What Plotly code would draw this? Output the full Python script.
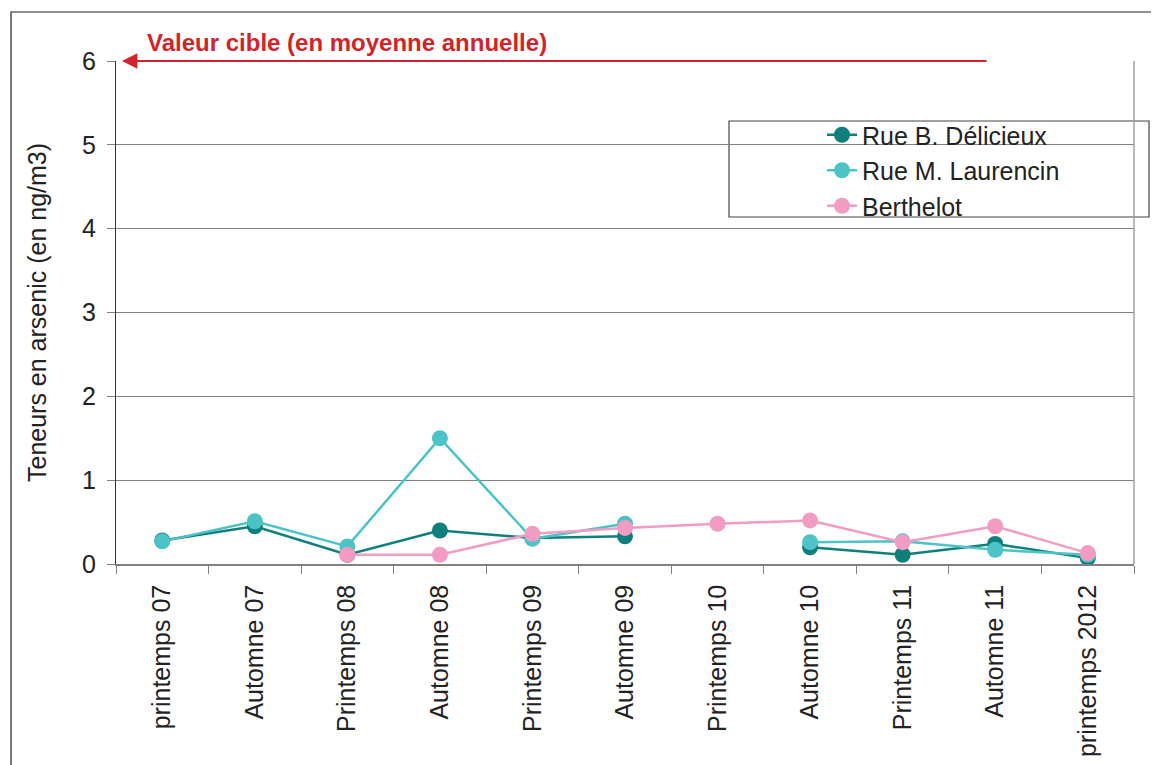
import plotly.graph_objects as go

categories = ["printemps 07", "Automne 07", "Printemps 08", "Automne 08", "Printemps 09",
              "Automne 09", "Printemps 10", "Automne 10", "Printemps 11", "Automne 11",
              "printemps 2012"]
delicieux = [0.28, 0.45, 0.11, 0.40, 0.31, 0.33, None, 0.20, 0.11, 0.24, 0.07]
laurencin = [0.27, 0.51, 0.21, 1.50, 0.30, 0.48, None, 0.26, 0.27, 0.17, 0.11]
berthelot = [None, None, 0.11, 0.11, 0.36, 0.43, 0.48, 0.52, 0.26, 0.45, 0.13]
target_value = 6
target_label = "Valeur cible (en moyenne annuelle)"
y_ticks = [0, 1, 2, 3, 4, 5, 6]

OFF = 8  # page body margin
W, H = 1159 - OFF, 765 - OFF
L, R, T = 116 - OFF, 25, 61 - OFF
B = OFF + H - 564
PW, PH = W - L - R, H - T - B

def px(x):  # screen px -> paper
    return (x - OFF - L) / PW

def py(y):
    return (H - B - (y - OFF)) / PH

FONT = "Liberation Sans, Arial, sans-serif"

series = [
    ("Rue B. Délicieux", delicieux, "#0f7f7c"),
    ("Rue M. Laurencin", laurencin, "#4cc3c6"),
    ("Berthelot", berthelot, "#f29cc3"),
]

fig = go.Figure()
for i, (name, vals, col) in enumerate(series):
    fig.add_trace(go.Scatter(
        x=categories, y=vals, name=name, mode="lines+markers",
        line=dict(color=col, width=2.5),
        marker=dict(color=col, size=16),
        connectgaps=False,
    ))

fig.update_layout(
    width=W, height=H,
    margin=dict(l=L, r=R, t=T, b=B, autoexpand=False),
    paper_bgcolor="white", plot_bgcolor="white",
    font=dict(family=FONT, size=25, color="#222222"),
    showlegend=True,
    legend=dict(x=px(822), y=py(112), xanchor="left", yanchor="top",
                bgcolor="rgba(0,0,0,0)", borderwidth=0,
                font=dict(size=25, color="#222222"),
                tracegroupgap=0, itemwidth=30),
    xaxis=dict(
        type="category", tickangle=-90, showgrid=False,
        showline=True, linecolor="#808080", linewidth=1.5,
        ticks="outside", tickson="boundaries", ticklen=8, tickcolor="#808080",
        tickfont=dict(size=25, color="#222222"), ticklabelstandoff=9,
        range=[-0.5, len(categories) - 0.5],
    ),
    yaxis=dict(
        range=[0, 6], tickvals=y_ticks, showgrid=True, gridcolor="#808080", gridwidth=1,
        showline=True, linecolor="#333333", linewidth=1.2,
        ticks="outside", ticklen=8, tickcolor="#808080",
        tickfont=dict(size=25, color="#222222"), ticklabelstandoff=6,
        zeroline=False,
        title=dict(text="Teneurs en arsenic (en ng/m3)", font=dict(size=25, color="#222222"),
                   standoff=28),
    ),
)

# plot-area right border
fig.add_shape(type="line", xref="paper", yref="paper", x0=1, x1=1, y0=0, y1=1,
              line=dict(color="#a0a0a0", width=1.5))
# outer chart border (cropped)
fig.add_shape(type="rect", xref="paper", yref="paper", x0=px(11), x1=px(1300),
              y0=py(900), y1=py(12), line=dict(color="#222222", width=1.2))
# legend box
fig.add_shape(type="rect", xref="paper", yref="paper", x0=px(729), x1=px(1149),
              y0=py(217), y1=py(121), line=dict(color="#444444", width=1.2),
              fillcolor="white", layer="below")

# target arrow
fig.add_annotation(x=px(122), y=target_value, xref="paper", yref="y",
                   ax=988 - 122, ay=0, axref="pixel", ayref="pixel",
                   text="", showarrow=True, arrowhead=2, arrowsize=1.4,
                   arrowwidth=2.2, arrowcolor="#d2232a")
fig.add_annotation(x=px(145), y=py(43), xref="paper", yref="paper",
                   xanchor="left", yanchor="middle", showarrow=False,
                   text="<b>" + target_label + "</b>",
                   font=dict(size=24, color="#d2232a", family=FONT))

fig.write_html("out.html")
